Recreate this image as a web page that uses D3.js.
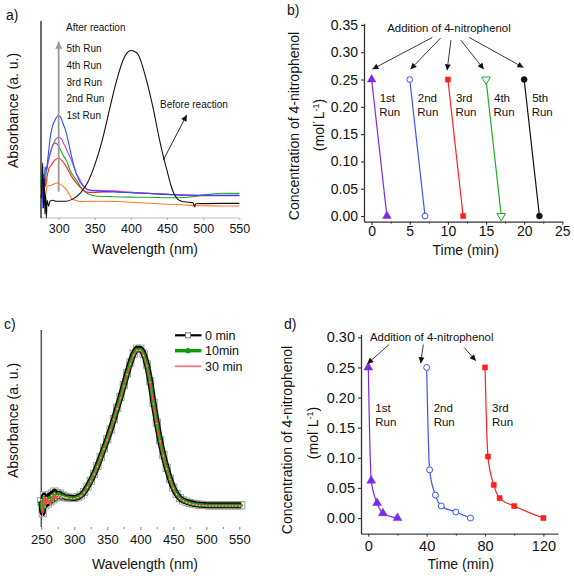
<!DOCTYPE html>
<html><head><meta charset="utf-8">
<script src="https://cdn.jsdelivr.net/npm/d3@7"></script>
<style>body{margin:0;background:#fff} svg text{font-family:Arial,"Liberation Sans",sans-serif;fill:#111}</style>
</head><body><svg id="fig" width="574" height="576"></svg>
<script>
// ---------------- DATA ----------------
// Panel a: UV-vis spectra [wavelength nm, absorbance a.u.]
const aBefore = [[276,0.10],[277,0.20],[278,0.28],[279,0.05],[280,0.20],[281,0.02],[282,0.12],[283,0.0],[284,0.09],[286,0.06],[288,0.085],[292,0.09],[296,0.085],[300,0.085],[310,0.085],[320,0.097],[330,0.126],[340,0.18],[350,0.27],[360,0.39],[370,0.545],[380,0.695],[390,0.81],[395,0.84],[400,0.85],[405,0.845],[410,0.83],[420,0.72],[430,0.57],[440,0.39],[445,0.31],[450,0.24],[455,0.17],[460,0.12],[465,0.095],[470,0.085],[480,0.08],[486,0.077],[488,0.06],[490,0.072],[500,0.073],[525,0.074],[550,0.074]];
const aBlue = [[276,0.12],[277,0.25],[278,0.05],[279,0.20],[280,0.10],[281,0.26],[283,0.24],[285,0.30],[288,0.40],[291,0.46],[294,0.49],[297,0.51],[300,0.52],[303,0.51],[306,0.48],[310,0.44],[315,0.36],[320,0.28],[325,0.22],[330,0.18],[335,0.158],[340,0.145],[350,0.138],[360,0.135],[375,0.132],[400,0.128],[425,0.124],[450,0.12],[475,0.117],[500,0.115],[525,0.115],[550,0.115]];
const aMagenta = [[277,0.20],[279,0.10],[281,0.22],[283,0.24],[286,0.29],[288,0.32],[292,0.37],[296,0.40],[300,0.41],[304,0.40],[308,0.37],[313,0.33],[318,0.29],[324,0.23],[330,0.19],[335,0.16],[340,0.145],[350,0.14],[375,0.138],[400,0.13],[425,0.125],[450,0.12],[475,0.116],[500,0.115],[550,0.115]];
const aGreen = [[275,0.20],[277,0.15],[279,0.22],[281,0.18],[283,0.24],[286,0.30],[289,0.34],[292,0.37],[295,0.38],[298,0.375],[302,0.35],[306,0.32],[311,0.29],[316,0.24],[321,0.21],[325,0.19],[330,0.16],[336,0.134],[342,0.12],[350,0.112],[375,0.108],[400,0.106],[425,0.105],[450,0.103],[475,0.104],[490,0.11],[500,0.118],[510,0.12],[525,0.126],[550,0.125]];
const aRed = [[276,0.17],[278,0.12],[280,0.20],[282,0.16],[284,0.21],[286,0.245],[290,0.27],[295,0.295],[300,0.303],[305,0.29],[309,0.27],[313,0.244],[318,0.21],[325,0.176],[330,0.155],[336,0.136],[342,0.13],[350,0.13],[375,0.135],[400,0.13],[425,0.125],[450,0.12],[475,0.115],[500,0.113],[550,0.113]];
const aOrange = [[275,0.12],[277,0.18],[278,0.08],[280,0.15],[282,0.12],[284,0.16],[288,0.165],[292,0.17],[297,0.178],[302,0.172],[307,0.158],[311,0.142],[315,0.118],[318,0.10],[323,0.09],[330,0.083],[340,0.084],[360,0.085],[380,0.084],[400,0.08],[425,0.075],[450,0.07],[475,0.066],[487,0.063],[488,0.055],[490,0.062],[500,0.062],[525,0.061],[550,0.061]];
const aTicks = [300,350,400,450,500,550];
const aRunLabels = ["5th Run","4th Run","3rd Run","2nd Run","1st Run"];

// Panel b: concentration vs time, 5 runs
const bRunNames = ["1st","2nd","3rd","4th","5th"];
const bTime = [[0,2],[5,7],[10,12],[15,17],[20,22]];
const bConc = [[0.25,0],[0.25,0],[0.25,0],[0.25,0],[0.25,0]];
const bXTicks = [0,5,10,15,20,25];
const bYTicks = [0,0.05,0.10,0.15,0.20,0.25,0.30,0.35];
// annotation arrows [x0,y0,x1,y1] in data units
const bArrows = [[7.95,0.327,0.1,0.269],[9.05,0.326,5.1,0.269],[10.4,0.322,9.9,0.267],[11.7,0.322,14.7,0.269],[12.8,0.327,19.9,0.272]];

// Panel c: spectra at 0, 10, 30 min
const cWave = [250,252,254,256,258,260,262,264,266,268,270,272,274,276,278,280,282,284,286,288,290,295,300,305,310,315,320,325,330,335,340,345,350,355,360,365,370,375,380,385,390,395,400,405,410,415,420,425,430,435,440,445,450,455,460,465,470,475,480,485,490,495,500,505,510,515,520,525,530,535,540,545,550,553];
const c0min  = [0.13,0.07,0.16,0.11,0.15,0.12,0.16,0.13,0.17,0.14,0.18,0.15,0.17,0.16,0.17,0.155,0.16,0.155,0.152,0.15,0.15,0.148,0.147,0.152,0.16,0.178,0.205,0.235,0.27,0.31,0.355,0.40,0.445,0.495,0.548,0.605,0.66,0.72,0.78,0.835,0.88,0.905,0.905,0.88,0.825,0.74,0.63,0.53,0.44,0.365,0.30,0.245,0.20,0.168,0.147,0.135,0.128,0.122,0.118,0.115,0.113,0.112,0.111,0.11,0.11,0.11,0.11,0.11,0.11,0.11,0.11,0.11,0.11,0.11];
const c10min = [0.12,0.08,0.15,0.12,0.14,0.13,0.15,0.12,0.16,0.15,0.17,0.14,0.16,0.17,0.16,0.15,0.158,0.154,0.15,0.149,0.149,0.147,0.146,0.151,0.159,0.177,0.204,0.234,0.269,0.309,0.354,0.399,0.444,0.494,0.547,0.603,0.658,0.718,0.777,0.832,0.877,0.901,0.901,0.877,0.822,0.737,0.628,0.528,0.438,0.363,0.298,0.244,0.199,0.167,0.146,0.134,0.127,0.121,0.117,0.114,0.112,0.111,0.11,0.109,0.109,0.109,0.109,0.109,0.109,0.109,0.109,0.109,0.109,0.109];
const c30min = [0.14,0.06,0.16,0.10,0.15,0.12,0.14,0.11,0.16,0.13,0.17,0.14,0.16,0.15,0.16,0.15,0.155,0.152,0.149,0.147,0.147,0.145,0.144,0.149,0.157,0.175,0.202,0.232,0.267,0.307,0.352,0.397,0.442,0.492,0.545,0.60,0.655,0.715,0.774,0.828,0.872,0.896,0.896,0.872,0.818,0.733,0.625,0.525,0.435,0.361,0.296,0.242,0.197,0.165,0.144,0.132,0.125,0.119,0.115,0.112,0.11,0.109,0.108,0.107,0.107,0.107,0.107,0.107,0.107,0.107,0.107,0.107,0.107,0.107];
const cTicks = [250,300,350,400,450,500,550];
const cLegend = ["0 min","10min","30 min"];

// Panel d: concentration vs time, 3 runs
const dRunNames = ["1st","2nd","3rd"];
const dTime = [[0,2,6,10,20],[40,42,46,50,60,70],[80,82,86,90,100,120]];
const dConc = [[0.25,0.062,0.025,0.008,0],[0.25,0.08,0.038,0.02,0.01,0],[0.25,0.102,0.055,0.033,0.02,0]];
const dXTicks = [0,40,80,120];
const dYTicks = [0,0.05,0.10,0.15,0.20,0.25,0.30];
const dArrows = [[14.2,0.288,-0.7,0.256],[37.7,0.288,35.9,0.257],[65.7,0.283,73.7,0.261]];

// ---------------- DRAW ----------------
const svg = d3.select("#fig");
svg.append("rect").attr("width",574).attr("height",576).attr("fill","#fff");
const defs = svg.append("defs");
function mkArrow(id, color, w, h){
  defs.append("marker").attr("id",id).attr("viewBox","0 0 10 10").attr("refX",10).attr("refY",5)
    .attr("markerUnits","userSpaceOnUse").attr("markerWidth",w).attr("markerHeight",h).attr("orient","auto")
    .append("path").attr("d","M0,0L10,5L0,10z").attr("fill",color);
}
mkArrow("arrK","#111",7,6);
mkArrow("arrG","#999",8,7);

function text(g,x,y,s,size,anchor){
  return g.append("text").attr("x",x).attr("y",y).attr("font-size",size).attr("text-anchor",anchor||"start").text(s);
}
function rotLabel(x,y,s,size){
  return svg.append("text").attr("transform",`translate(${x},${y}) rotate(-90)`).attr("text-anchor","middle")
    .attr("dy","0.35em").attr("font-size",size).text(s);
}
function unitLabel(x,y){
  const t = svg.append("text").attr("transform",`translate(${x},${y}) rotate(-90)`).attr("text-anchor","middle")
    .attr("dy","0.35em").attr("font-size",14);
  t.append("tspan").text("(mol\u02D9L");
  t.append("tspan").attr("font-size",9).attr("dy","-0.55em").text("-1");
  t.append("tspan").attr("dy","0.35em").text(")");
}
function styleAxis(g,color,size){
  g.selectAll(".domain").attr("stroke",color).attr("stroke-width",1.3);
  g.selectAll(".tick line").attr("stroke",color).attr("stroke-width",1.1);
  g.selectAll(".tick text").attr("font-size",size).attr("fill","#111").attr("font-family","Arial, 'Liberation Sans', sans-serif");
}
function marker(g,type,x,y,color,size){
  const sym = {tri:d3.symbolTriangle,triDown:d3.symbolTriangle,circ:d3.symbolCircle,sq:d3.symbolSquare}[type.replace("Open","")];
  const open = type.indexOf("Open")>=0;
  const rot = type.startsWith("triDown") ? 180 : 0;
  g.append("path").attr("d",d3.symbol(sym,size)()).attr("transform",`translate(${x},${y}) rotate(${rot})`)
    .attr("fill",open?"#fff":color).attr("stroke",color).attr("stroke-width",open?1:0.5);
}

// ===== Panel a =====
const aX = d3.scaleLinear([275,550],[40.6,239.3]);
const aY = d3.scaleLinear([0,1],[218,21]);
const ga = svg.append("g");
text(ga,6,20,"a)",14);
ga.append("line").attr("x1",aX(275)).attr("x2",aX(550)).attr("y1",aY(0)).attr("y2",aY(0)).attr("stroke","#bbb").attr("stroke-width",1);
const axA = ga.append("g").attr("transform",`translate(0,${aY(0)})`)
  .call(d3.axisBottom(aX).tickValues(aTicks).tickSize(2).tickPadding(4.5).tickSizeOuter(0));
axA.select(".domain").remove();
styleAxis(axA,"#aaa",12.5);
ga.append("line").attr("x1",41).attr("x2",41).attr("y1",aY(1)).attr("y2",aY(0)).attr("stroke","#444").attr("stroke-width",1.6);
const aLine = d3.line().x(d=>aX(d[0])).y(d=>aY(d[1])).curve(d3.curveMonotoneX);
[[aOrange,"#ff7a22"],[aGreen,"#1faa1f"],[aRed,"#ff2020"],[aMagenta,"#c040f0"],[aBlue,"#2a4cff"],[aBefore,"#111"]].forEach(([d,c])=>{
  ga.append("path").datum(d).attr("d",aLine).attr("fill","none").attr("stroke",c).attr("stroke-width",1.1);
});
ga.append("line").attr("x1",aX(300)).attr("x2",aX(300)).attr("y1",aY(0.134)).attr("y2",aY(0.895))
  .attr("stroke","#999").attr("stroke-width",1.8).attr("marker-end","url(#arrG)");
text(ga,66,30.5,"After reaction",10);
aRunLabels.forEach((s,i)=>text(ga,66.5,52+i*16.8,s,10));
ga.append("line").attr("x1",aX(444.8)).attr("y1",aY(0.294)).attr("x2",aX(477.2)).attr("y2",aY(0.523))
  .attr("stroke","#111").attr("stroke-width",0.9).attr("marker-end","url(#arrK)");
text(ga,160,107.6,"Before reaction",10);
text(ga,145,254,"Wavelength (nm)",14,"middle");
rotLabel(13,110.5,"Absorbance (a. u.)",14);

// ===== Panel b =====
const bX = d3.scaleLinear([-1,25],[364,562.3]);
const bY = d3.scaleLinear([-0.0104,0.353],[221.7,23.3]);
const gb = svg.append("g");
text(gb,287,15,"b)",14);
const bxAx = gb.append("g").attr("transform",`translate(0,${bY.range()[0]})`)
  .call(d3.axisBottom(bX).tickValues(bXTicks).tickSize(3).tickPadding(1.5).tickSizeOuter(0));
styleAxis(bxAx,"#333",14);
gb.append("g").attr("transform",`translate(0,${bY.range()[0]})`)
  .call(d3.axisBottom(bX).tickValues([2.5,7.5,12.5,17.5,22.5]).tickSize(2).tickFormat("").tickSizeOuter(0))
  .call(g=>{g.select(".domain").remove(); g.selectAll("line").attr("stroke","#333");});
const byAx = gb.append("g").attr("transform",`translate(${bX.range()[0]},0)`)
  .call(d3.axisLeft(bY).tickValues(bYTicks).tickFormat(d3.format(".2f")).tickSize(3).tickPadding(3).tickSizeOuter(0));
styleAxis(byAx,"#333",14);
const bColors = ["#7a2ae6","#3355ff","#ff1f1f","#22aa22","#111"];
const bMarks = ["tri","circOpen","sq","triDownOpen","circ"];
const bSizes = [32,26,26,32,28];
bTime.forEach((ts,i)=>{
  const pts = ts.map((t,j)=>[t,bConc[i][j]]);
  gb.append("path").datum(pts).attr("d",d3.line().x(d=>bX(d[0])).y(d=>bY(d[1])))
    .attr("fill","none").attr("stroke",bColors[i]).attr("stroke-width",1.2);
  pts.forEach(p=>marker(gb,bMarks[i],bX(p[0]),bY(p[1]),bColors[i],bSizes[i]));
  text(gb,bX(ts[0])+8,102.3,bRunNames[i],11.5);
  text(gb,bX(ts[0])+7.5,115.8,"Run",11.5);
});
bArrows.forEach(a=>gb.append("line").attr("x1",bX(a[0])).attr("y1",bY(a[1])).attr("x2",bX(a[2])).attr("y2",bY(a[3]))
  .attr("stroke","#222").attr("stroke-width",0.9).attr("marker-end","url(#arrK)"));
text(gb,449,32.4,"Addition of 4-nitrophenol",11.4,"middle");
text(gb,465.7,255,"Time (min)",14,"middle");
rotLabel(294,126,"Concentration of 4-nitrophenol",14);
unitLabel(319,125);

// ===== Panel c =====
const cX = d3.scaleLinear([250,550],[41.3,239.3]);
const cY = d3.scaleLinear([0,1],[527,330]);
const gc = svg.append("g");
text(gc,4,329,"c)",14);
const cxAx = gc.append("g").attr("transform",`translate(0,${cY(0)})`)
  .call(d3.axisBottom(cX).tickValues(cTicks).tickSize(3).tickPadding(5).tickSizeOuter(0));
cxAx.select(".domain").remove();
styleAxis(cxAx,"#888",13);
gc.append("g").attr("transform",`translate(0,${cY(0)})`)
  .call(d3.axisBottom(cX).tickValues([275,325,375,425,475,525]).tickSize(2).tickFormat(""))
  .call(g=>{g.select(".domain").remove(); g.selectAll("line").attr("stroke","#888");});
gc.append("line").attr("x1",41.3).attr("x2",41.3).attr("y1",cY(1)).attr("y2",cY(0)).attr("stroke","#555").attr("stroke-width",1.5);
const cLine = d3.line().x(d=>cX(d[0])).y(d=>cY(d[1])).curve(d3.curveMonotoneX);
const c0 = cWave.map((w,i)=>[w,c0min[i]]), c10 = cWave.map((w,i)=>[w,c10min[i]]), c30 = cWave.map((w,i)=>[w,c30min[i]]);
// 0 min: black line with open squares
gc.selectAll(".sq0").data(c0).join("rect").attr("x",d=>cX(d[0])-3.6).attr("y",d=>cY(d[1])-3.6).attr("width",7.2).attr("height",7.2)
  .attr("fill","#fff").attr("stroke","#8a8a8a").attr("stroke-width",0.8);
gc.append("path").datum(c0).attr("d",cLine).attr("fill","none").attr("stroke","#000").attr("stroke-width",6);
// 10 min: green line with filled circles
gc.append("path").datum(c10).attr("d",cLine).attr("fill","none").attr("stroke","#0d9a0d").attr("stroke-width",3.6);
gc.selectAll(".ci10").data(c10).join("circle").attr("cx",d=>cX(d[0])).attr("cy",d=>cY(d[1])).attr("r",1.7).attr("fill","#0d9a0d");
// 30 min: red/pink line with small markers
gc.append("path").datum(c30).attr("d",cLine).attr("fill","none").attr("stroke","#ff4a4a").attr("stroke-width",1.3);
gc.selectAll(".ci30").data(c30).join("circle").attr("cx",d=>cX(d[0])).attr("cy",d=>cY(d[1])).attr("r",0.7).attr("fill","#ffd0d0");
// legend
const lg = gc.append("g");
const ly = [335.3,350.7,366.3];
lg.append("line").attr("x1",175).attr("x2",201.5).attr("y1",ly[0]).attr("y2",ly[0]).attr("stroke","#000").attr("stroke-width",2.2);
lg.append("rect").attr("x",185.5).attr("y",ly[0]-2.5).attr("width",5).attr("height",5).attr("fill","#fff").attr("stroke","#777");
lg.append("line").attr("x1",175).attr("x2",201.5).attr("y1",ly[1]).attr("y2",ly[1]).attr("stroke","#0d9a0d").attr("stroke-width",3.4);
lg.append("circle").attr("cx",188).attr("cy",ly[1]).attr("r",2.6).attr("fill","#0d9a0d");
lg.append("line").attr("x1",175).attr("x2",201.5).attr("y1",ly[2]).attr("y2",ly[2]).attr("stroke","#f07585").attr("stroke-width",1.8);
cLegend.forEach((s,i)=>text(lg,205,ly[i]+4.5,s,12.5));
text(gc,145,569,"Wavelength (nm)",14,"middle");
rotLabel(13,420.5,"Absorbance (a. u.)",14);

// ===== Panel d =====
const dX = d3.scaleLinear([-5,130],[361,558]);
const dY = d3.scaleLinear([-0.026,0.305],[533.7,334.3]);
const gd = svg.append("g");
text(gd,284,329,"d)",14);
const dxAx = gd.append("g").attr("transform",`translate(0,${dY.range()[0]})`)
  .call(d3.axisBottom(dX).tickValues(dXTicks).tickSize(3).tickPadding(4.5).tickSizeOuter(0));
styleAxis(dxAx,"#445",14.5);
gd.append("g").attr("transform",`translate(0,${dY.range()[0]})`)
  .call(d3.axisBottom(dX).tickValues([20,60,100]).tickSize(2).tickFormat(""))
  .call(g=>{g.select(".domain").remove(); g.selectAll("line").attr("stroke","#445");});
const dyAx = gd.append("g").attr("transform",`translate(${dX.range()[0]},0)`)
  .call(d3.axisLeft(dY).tickValues(dYTicks).tickFormat(d3.format(".2f")).tickSize(3).tickPadding(3).tickSizeOuter(0));
styleAxis(dyAx,"#333",14.5);
const dColors = ["#7a2ae6","#3355ff","#ff1f1f"];
const dMarks = ["tri","circOpen","sq"];
const dSizes = [34,28,26];
const dLine = d3.line().x(d=>dX(d[0])).y(d=>dY(d[1])).curve(d3.curveMonotoneX);
dTime.forEach((ts,i)=>{
  const pts = ts.map((t,j)=>[t,dConc[i][j]]);
  gd.append("path").datum(pts).attr("d",dLine).attr("fill","none").attr("stroke",dColors[i]).attr("stroke-width",1.2);
  pts.forEach(p=>marker(gd,dMarks[i],dX(p[0]),dY(p[1]),dColors[i],dSizes[i]));
  text(gd,dX(ts[0])+7,412,dRunNames[i],11.5);
  text(gd,dX(ts[0])+7,425.5,"Run",11.5);
});
dArrows.forEach(a=>gd.append("line").attr("x1",dX(a[0])).attr("y1",dY(a[1])).attr("x2",dX(a[2])).attr("y2",dY(a[3]))
  .attr("stroke","#222").attr("stroke-width",0.9).attr("marker-end","url(#arrK)"));
text(gd,431.7,341.4,"Addition of 4-nitrophenol",11.4,"middle");
text(gd,460.7,569,"Time (min)",14,"middle");
rotLabel(287,440,"Concentration of 4-nitrophenol",14);
unitLabel(313,433);
</script></body></html>
